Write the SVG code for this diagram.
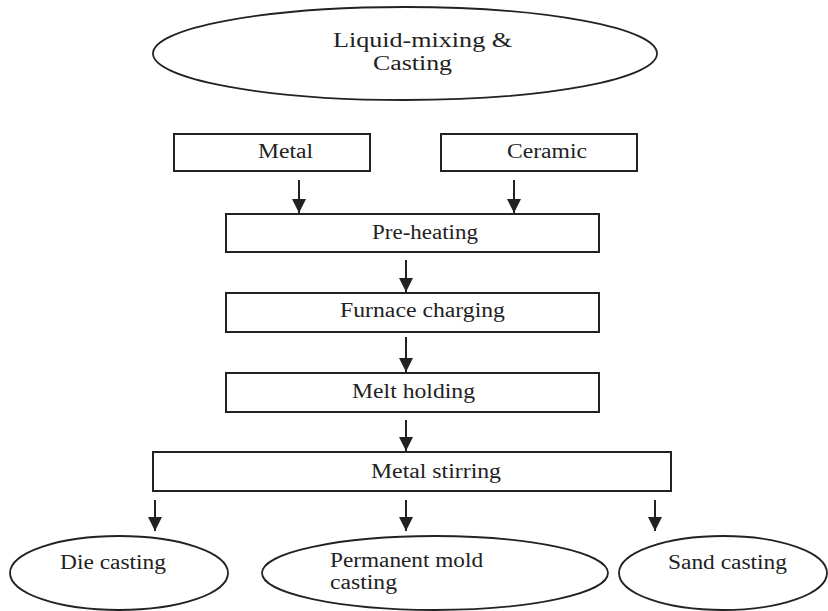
<svg xmlns="http://www.w3.org/2000/svg" width="828" height="611" viewBox="0 0 828 611">
<defs>
<style>
.box{fill:#fff;stroke:#222;stroke-width:2}
.ell{fill:#fff;stroke:#222;stroke-width:1.8}
.t{font-family:"Liberation Serif","Times New Roman",serif;font-size:20px;fill:#222}
.c{stroke:#222;stroke-width:2;fill:none}
</style>
<marker id="ah" markerUnits="userSpaceOnUse" markerWidth="16" markerHeight="14" refX="14" refY="7" orient="auto">
<path d="M0,0 L14,7 L0,14 Z" fill="#222"/>
</marker>
</defs>
<rect width="828" height="611" fill="#fff"/>
<g id="top">
<ellipse class="ell" cx="405" cy="53.5" rx="252" ry="46.5"/>
<text class="t" x="333" y="47" textLength="179" lengthAdjust="spacingAndGlyphs">Liquid-mixing &amp;</text>
<text class="t" x="373" y="70" textLength="79" lengthAdjust="spacingAndGlyphs">Casting</text>
</g>
<g id="metal">
<rect class="box" x="174" y="134" width="196" height="37"/>
<text class="t" x="258" y="158" textLength="55" lengthAdjust="spacingAndGlyphs">Metal</text>
</g>
<g id="ceramic">
<rect class="box" x="441" y="134" width="196" height="37"/>
<text class="t" x="507" y="158" textLength="80" lengthAdjust="spacingAndGlyphs">Ceramic</text>
</g>
<g id="preheating">
<rect class="box" x="226" y="214" width="373" height="38"/>
<text class="t" x="372" y="239" textLength="106" lengthAdjust="spacingAndGlyphs">Pre-heating</text>
</g>
<g id="furnace">
<rect class="box" x="226" y="293" width="373" height="39"/>
<text class="t" x="340" y="317" textLength="165" lengthAdjust="spacingAndGlyphs">Furnace charging</text>
</g>
<g id="melt">
<rect class="box" x="226" y="373" width="373" height="39"/>
<text class="t" x="352" y="398" textLength="123" lengthAdjust="spacingAndGlyphs">Melt holding</text>
</g>
<g id="stirring">
<rect class="box" x="153" y="452" width="518" height="39"/>
<text class="t" x="371" y="478" textLength="130" lengthAdjust="spacingAndGlyphs">Metal stirring</text>
</g>
<g id="die">
<ellipse class="ell" cx="119" cy="573" rx="109" ry="37"/>
<text class="t" x="60" y="569" textLength="106" lengthAdjust="spacingAndGlyphs">Die casting</text>
</g>
<g id="permanent">
<ellipse class="ell" cx="435" cy="573" rx="173" ry="37"/>
<text class="t" x="330" y="567" textLength="153" lengthAdjust="spacingAndGlyphs">Permanent mold</text>
<text class="t" x="330" y="589" textLength="67" lengthAdjust="spacingAndGlyphs">casting</text>
</g>
<g id="sand">
<ellipse class="ell" cx="723" cy="573" rx="104" ry="37"/>
<text class="t" x="668" y="569" textLength="119" lengthAdjust="spacingAndGlyphs">Sand casting</text>
</g>
<g id="connectors">
<line class="c" x1="299" y1="180" x2="299" y2="213" marker-end="url(#ah)"/>
<line class="c" x1="514" y1="180" x2="514" y2="213" marker-end="url(#ah)"/>
<line class="c" x1="406" y1="260" x2="406" y2="292" marker-end="url(#ah)"/>
<line class="c" x1="406" y1="337" x2="406" y2="372" marker-end="url(#ah)"/>
<line class="c" x1="406" y1="420" x2="406" y2="451" marker-end="url(#ah)"/>
<line class="c" x1="155" y1="500" x2="155" y2="531" marker-end="url(#ah)"/>
<line class="c" x1="406" y1="500" x2="406" y2="531" marker-end="url(#ah)"/>
<line class="c" x1="655" y1="500" x2="655" y2="531" marker-end="url(#ah)"/>
</g>
</svg>
